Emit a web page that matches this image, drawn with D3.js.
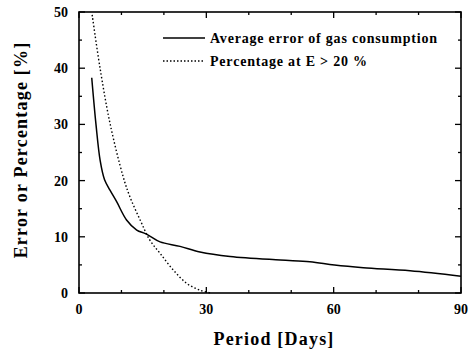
<!DOCTYPE html>
<html>
<head>
<meta charset="utf-8">
<script src="https://cdn.jsdelivr.net/npm/d3@7"></script>
<style>
	body { margin: 0; background: #fff; }
	svg { font-family: "Liberation Serif", "DejaVu Serif", serif; }
	.tick-label { font-size: 14px; font-weight: bold; }
	.axis-title { font-size: 18px; font-weight: bold; letter-spacing: 1.2px; }
	.legend-text { font-size: 14px; font-weight: bold; letter-spacing: 0.8px; }
</style>
</head>
<body>
<div id="chart"></div>
<script>
// Series
let avgErrorDays = [3, 4, 5, 6, 7.3, 8.9, 11.2, 13.6, 15.5, 17, 19.1, 23.8, 28.5, 35.6, 47.4, 54.4, 60.2, 67, 78, 90];
let avgErrorVals = [38.3, 30, 23.5, 20.2, 18.3, 16.2, 13, 11.2, 10.6, 10, 9.1, 8.3, 7.3, 6.5, 5.87, 5.57, 4.98, 4.5, 3.97, 3.0];

let pctDays = [3.1, 4.9, 7.3, 10.4, 12, 14.4, 16.7, 19.1, 22.2, 25.4, 28.5, 31];
let pctVals = [49.5, 40.3, 30.2, 20.7, 17.1, 13, 9.4, 7.06, 4.1, 1.7, 0.5, 0];

let xTicks = [0, 30, 60, 90];
let yTicks = [0, 10, 20, 30, 40, 50];
let legendLabels = ["Average error of gas consumption", "Percentage at E > 20 %"];

let margin = { top: 12, right: 14, bottom: 60, left: 79 };
let width = 475 - margin.left - margin.right;
let height = 353 - margin.top - margin.bottom;

let svg = d3.select("#chart").append("svg")
	.attr("width", 475)
	.attr("height", 353);

let g = svg.append("g")
	.attr("transform", "translate(" + margin.left + "," + margin.top + ")");

let x = d3.scaleLinear().domain([0, 90]).range([0, width]);
let y = d3.scaleLinear().domain([0, 50]).range([height, 0]);

// minor / major ticks, drawn inward on all four sides
function tickMarks(vals, len, side) {
	g.selectAll(null).data(vals).enter().append("line")
		.attr("stroke", "#000")
		.attr("stroke-width", 1.3)
		.attr("x1", d => side === "bottom" || side === "top" ? x(d) : (side === "left" ? 0 : width))
		.attr("x2", d => side === "bottom" || side === "top" ? x(d) : (side === "left" ? len : width - len))
		.attr("y1", d => side === "left" || side === "right" ? y(d) : (side === "bottom" ? height : 0))
		.attr("y2", d => side === "left" || side === "right" ? y(d) : (side === "bottom" ? height - len : len));
}

let xMinor = d3.range(0, 91, 10).filter(d => d % 30 !== 0);
let yMinor = d3.range(5, 50, 10);
["bottom", "top"].forEach(s => { tickMarks(xTicks, 6, s); tickMarks(xMinor, 3, s); });
["left", "right"].forEach(s => { tickMarks(yTicks, 6, s); tickMarks(yMinor, 3, s); });

// frame
g.append("rect")
	.attr("width", width)
	.attr("height", height)
	.attr("fill", "none")
	.attr("stroke", "#000")
	.attr("stroke-width", 1.6);

// tick labels
g.selectAll(".xl").data(xTicks).enter().append("text")
	.attr("class", "tick-label")
	.attr("x", d => x(d))
	.attr("y", height + 21)
	.attr("text-anchor", "middle")
	.text(d => d);

g.selectAll(".yl").data(yTicks).enter().append("text")
	.attr("class", "tick-label")
	.attr("x", -11)
	.attr("y", d => y(d) + 5)
	.attr("text-anchor", "end")
	.text(d => d);

// axis titles
svg.append("text")
	.attr("class", "axis-title")
	.attr("x", 274)
	.attr("y", 345)
	.attr("text-anchor", "middle")
	.text("Period [Days]");

svg.append("text")
	.attr("class", "axis-title")
	.attr("transform", "translate(27,150) rotate(-90)")
	.attr("text-anchor", "middle")
	.text("Error or Percentage [%]");

// lines
let line = d3.line()
	.curve(d3.curveCatmullRom.alpha(0.5))
	.x(d => x(d[0]))
	.y(d => y(d[1]));

g.append("path")
	.datum(d3.zip(avgErrorDays, avgErrorVals))
	.attr("fill", "none")
	.attr("stroke", "#000")
	.attr("stroke-width", 1.5)
	.attr("d", line);

g.append("path")
	.datum(d3.zip(pctDays, pctVals))
	.attr("fill", "none")
	.attr("stroke", "#000")
	.attr("stroke-width", 1.4)
	.attr("stroke-dasharray", "1.5,2.2")
	.attr("d", line);

// legend
let legend = svg.append("g").attr("transform", "translate(163,38)");
legendLabels.forEach((lab, i) => {
	legend.append("line")
		.attr("x1", 0).attr("x2", 42)
		.attr("y1", i * 23).attr("y2", i * 23)
		.attr("stroke", "#000")
		.attr("stroke-width", i === 0 ? 1.5 : 1.3)
		.attr("stroke-dasharray", i === 0 ? null : "1.5,2");
	legend.append("text")
		.attr("class", "legend-text")
		.attr("x", 47)
		.attr("y", i * 23 + 5)
		.text(lab);
});
</script>
</body>
</html>
